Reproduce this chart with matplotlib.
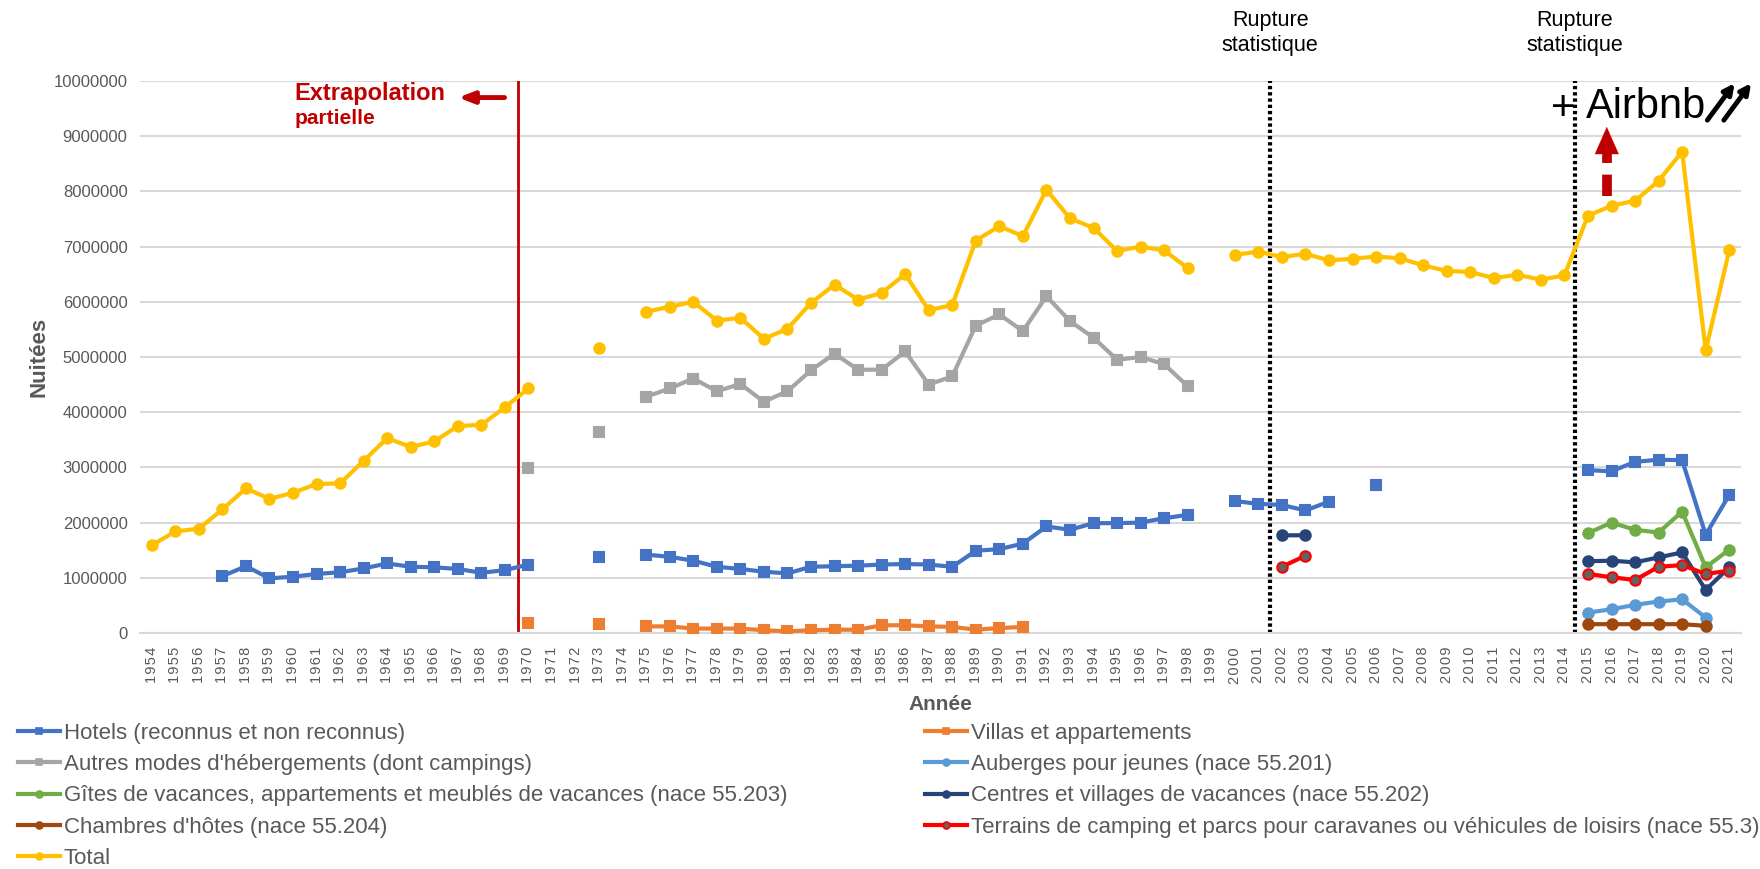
import numpy as np
import matplotlib.pyplot as plt
from matplotlib.lines import Line2D
import matplotlib.transforms as mtransforms

plt.rcParams['font.family'] = ['Liberation Sans', 'DejaVu Sans']

# années (axe des catégories)
years = list(range(1954, 2022))

# valeurs en millions de nuitées
total_years = list(range(1954, 1971)) + [1973] + list(range(1975, 1999)) + list(range(2000, 2022))
total_vals = [1.59, 1.84, 1.89, 2.24, 2.62, 2.43, 2.54, 2.70, 2.71, 3.12, 3.53, 3.37, 3.47, 3.75, 3.77, 4.09, 4.43,
              5.17,
              5.82, 5.91, 6.00, 5.66, 5.71, 5.33, 5.51, 5.98, 6.31, 6.04, 6.16, 6.50, 5.85, 5.94, 7.11, 7.37, 7.19,
              8.03, 7.51, 7.34, 6.92, 7.00, 6.93, 6.61,
              6.85, 6.91, 6.81, 6.87, 6.75, 6.78, 6.82, 6.79, 6.66, 6.56, 6.54, 6.43, 6.49, 6.40, 6.48,
              7.56, 7.74, 7.83, 8.19, 8.72, 5.12, 6.93]

hotels_years = list(range(1957, 1971)) + [1973] + list(range(1975, 1999)) + list(range(2000, 2005)) + [2006] + list(range(2015, 2022))
hotels_vals = [1.03, 1.21, 0.99, 1.02, 1.07, 1.10, 1.17, 1.26, 1.20, 1.19, 1.16, 1.09, 1.14, 1.24,
               1.38,
               1.42, 1.38, 1.31, 1.20, 1.16, 1.11, 1.08, 1.20, 1.21, 1.22, 1.24, 1.25, 1.24, 1.20, 1.49, 1.52,
               1.62, 1.93, 1.87, 1.99, 1.99, 2.00, 2.08, 2.14,
               2.39, 2.34, 2.32, 2.22, 2.38,
               2.68,
               2.95, 2.93, 3.10, 3.14, 3.13, 1.78, 2.50]

villas_years = [1970, 1973] + list(range(1975, 1992))
villas_vals = [0.19, 0.17, 0.12, 0.12, 0.08, 0.08, 0.08, 0.05, 0.03, 0.05, 0.06, 0.06, 0.14, 0.14, 0.12, 0.11,
               0.06, 0.09, 0.11]

autres_years = [1970, 1973] + list(range(1975, 1999))
autres_vals = [2.99, 3.64, 4.28, 4.43, 4.61, 4.38, 4.51, 4.19, 4.38, 4.76, 5.06, 4.77, 4.77, 5.10, 4.50, 4.65,
               5.57, 5.77, 5.47, 6.10, 5.65, 5.35, 4.95, 5.00, 4.87, 4.47]

recent_years = list(range(2015, 2022))
auberges_vals = [0.37, 0.43, 0.51, 0.57, 0.61, 0.28, None]
gites_vals = [1.81, 2.00, 1.87, 1.82, 2.20, 1.19, 1.51]
chambres_vals = [0.16, 0.16, 0.16, 0.16, 0.16, 0.13, None]

centres_years = [2002, 2003] + recent_years
centres_vals = [1.77, 1.77, 1.30, 1.31, 1.28, 1.37, 1.46, 0.78, 1.19]
terrains_years = [2002, 2003] + recent_years
terrains_vals = [1.20, 1.40, 1.07, 1.01, 0.96, 1.20, 1.23, 1.07, 1.13]


def full(yrs, vals):
    arr = np.full(len(years), np.nan)
    for y, v in zip(yrs, vals):
        if v is not None:
            arr[y - years[0]] = v * 1e6
    return arr


# label, données, couleur, marqueur, remplissage du marqueur
series = [
    ('Hotels (reconnus et non reconnus)', full(hotels_years, hotels_vals), '#4472C4', 's', '#4472C4'),
    ('Villas et appartements', full(villas_years, villas_vals), '#ED7D31', 's', '#ED7D31'),
    ("Autres modes d'hébergements (dont campings)", full(autres_years, autres_vals), '#A5A5A5', 's', '#A5A5A5'),
    ('Auberges pour jeunes (nace 55.201)', full(recent_years, auberges_vals), '#5B9BD5', 'o', '#5B9BD5'),
    ('Gîtes de vacances, appartements et meublés de vacances (nace 55.203)', full(recent_years, gites_vals), '#70AD47', 'o', '#70AD47'),
    ('Centres et villages de vacances (nace 55.202)', full(centres_years, centres_vals), '#264478', 'o', '#264478'),
    ("Chambres d'hôtes (nace 55.204)", full(recent_years, chambres_vals), '#9E480E', 'o', '#9E480E'),
    ('Terrains de camping et parcs pour caravanes ou véhicules de loisirs (nace 55.3)', full(terrains_years, terrains_vals), '#FF0000', 'o', '#636363'),
    ('Total', full(total_years, total_vals), '#FFC000', 'o', '#FFC000'),
]

fig = plt.figure(figsize=(17.6, 8.69), dpi=100)
ax = fig.add_axes([140/1760, 1 - 633/869, (1741 - 140)/1760, (633 - 81)/869])

handles = {}
for i, (label, vals, col, mk, mfc) in enumerate(series):
    ax.plot(years, vals, color=col, lw=3, marker=mk, ms=7.5, mfc=mfc, mec=col, mew=1.5, zorder=3 + i)
    handles[label] = Line2D([], [], color=col, lw=3, marker=mk, ms=5, mfc=mfc, mec=col, mew=1.2)

ax.set_xlim(years[0] - 0.5, years[-1] + 0.5)
ax.set_ylim(0, 1e7)
yt = np.arange(0, 1e7 + 1, 1e6)
ax.set_yticks(yt)
ax.set_yticklabels([str(int(v)) for v in yt])
ax.set_xticks(years)
ax.set_xticklabels(['\u200a'.join(str(y)) for y in years], rotation=90)
ax.tick_params(axis='x', length=0, pad=10, labelsize=10.5, labelcolor='#595959')
ax.tick_params(axis='y', length=0, pad=9, labelsize=12, labelcolor='#595959')
ax.grid(axis='y', color='#D9D9D9', lw=1.5)
ax.set_axisbelow(True)
for s in ['top', 'right', 'left']:
    ax.spines[s].set_visible(False)
ax.spines['bottom'].set_color('#D9D9D9')
ax.spines['bottom'].set_linewidth(1.5)

ax.set_ylabel('Nuitées', fontsize=16, fontweight='bold', color='#595959')
ax.yaxis.set_label_coords((49 - 140) / 1601, 0.5)
ax.set_xlabel('Année', fontsize=15, fontweight='bold', color='#595959', labelpad=8)

# lignes de rupture / extrapolation
ax.axvline(1969.55, color='#C00000', lw=2, zorder=2)
ax.axvline(2001.5, color='black', lw=3, linestyle=(0, (0.8, 0.7)), zorder=2)
ax.axvline(2014.45, color='black', lw=3, linestyle=(0, (0.8, 0.7)), zorder=2)

trans = mtransforms.blended_transform_factory(ax.transData, ax.transAxes)
for xr in [2001.5, 2014.45]:
    ax.text(xr, 1.087, 'Rupture\nstatistique', transform=trans, ha='center', va='center',
            fontsize=15.5, linespacing=1.2, color='black', clip_on=False)

ax.text(1960.05, 9.77e6, 'Extrapolation', fontsize=17, fontweight='bold', color='#C00000', va='center')
ax.text(1960.05, 9.32e6, 'partielle', fontsize=15, fontweight='bold', color='#C00000', va='center')
ax.annotate('', xy=(1966.9, 9.7e6), xytext=(1969.1, 9.7e6),
            arrowprops=dict(arrowstyle='-|>,head_width=0.35,head_length=0.9', lw=3.5, color='#C00000'))

ax.text(2013.95, 9.5e6, '+', fontsize=30, ha='center', va='center', color='black', zorder=20)
ax.text(2014.9, 9.52e6, 'Airbnb', fontsize=30, ha='left', va='center', color='black', zorder=20)
ax.annotate('', xy=(2021.3, 1.0e7), xytext=(2020.0, 9.25e6), annotation_clip=False,
            arrowprops=dict(arrowstyle='-|>,head_width=0.3,head_length=0.6', lw=3.5, color='black'))
ax.annotate('', xy=(2022.0, 1.0e7), xytext=(2020.7, 9.25e6), annotation_clip=False,
            arrowprops=dict(arrowstyle='-|>,head_width=0.3,head_length=0.6', lw=3.5, color='black'))

# flèche rouge pointillée
ax.plot([2015.8, 2015.8], [7.92e6, 8.8e6], color='#C00000', lw=7, dashes=(2.2, 1.2), solid_capstyle='butt', zorder=15)
ax.annotate('', xy=(2015.8, 9.22e6), xytext=(2015.8, 8.8e6),
            arrowprops=dict(arrowstyle='-|>,head_width=0.86,head_length=1.95', lw=0.1, color='#C00000'), zorder=15)

# légende (deux colonnes)
col1 = [series[k][0] for k in [0, 2, 4, 6, 8]]
col2 = [series[k][0] for k in [1, 3, 5, 7]]
leg_kw = dict(loc='upper left', frameon=False, fontsize=16, borderpad=0, borderaxespad=0,
              handlelength=1.9, handletextpad=0.15, labelspacing=0.46, labelcolor='#595959')
leg1 = fig.legend([handles[l] for l in col1], col1, bbox_to_anchor=(18/1760, 1 - 723/869), **leg_kw)
leg2 = fig.legend([handles[l] for l in col2], col2, bbox_to_anchor=(925/1760, 1 - 723/869), **leg_kw)

fig.savefig('out.png', dpi=100)
